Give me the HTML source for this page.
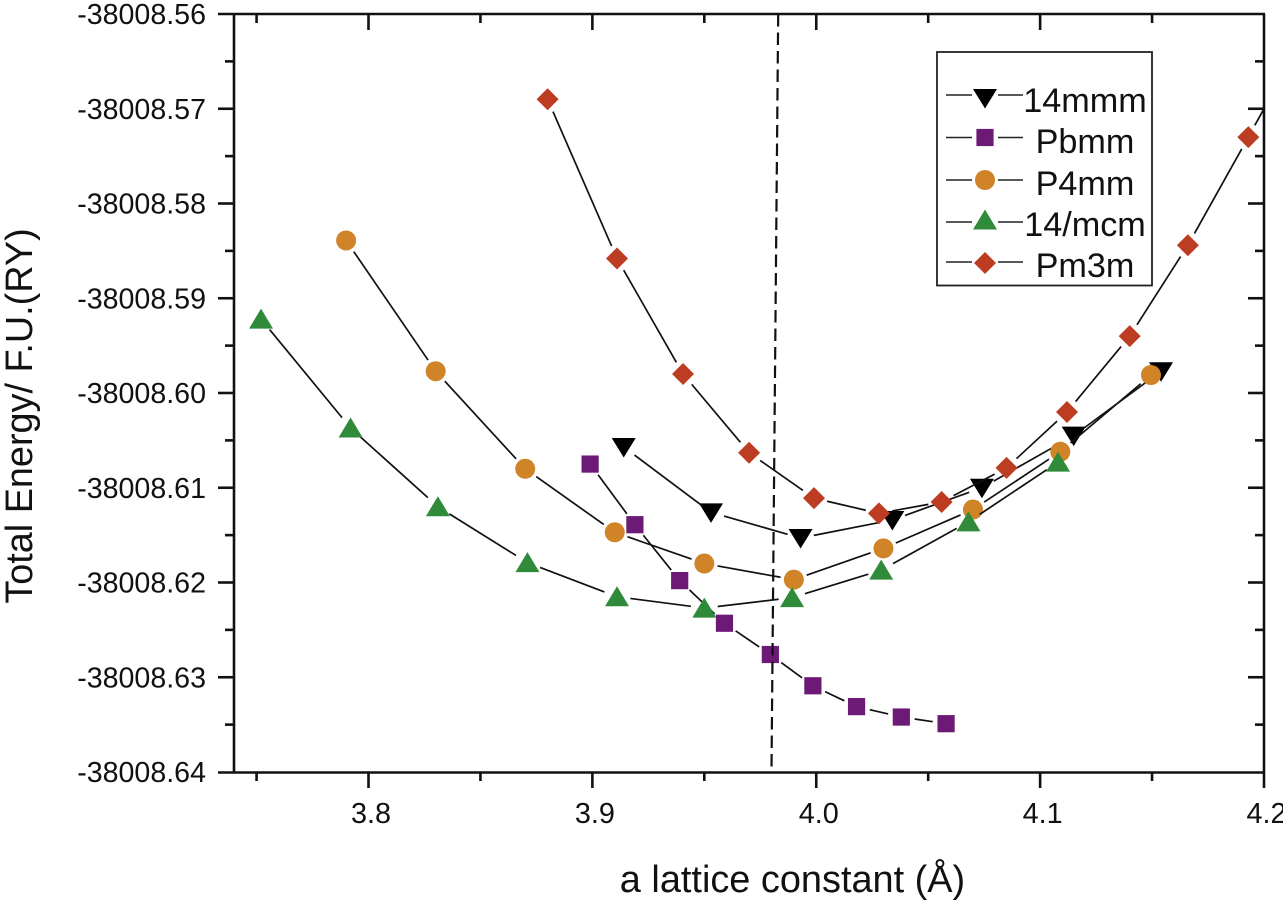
<!DOCTYPE html>
<html lang="en">
<head>
<meta charset="utf-8">
<title>Total Energy vs Lattice Constant</title>
<style>
html,body{margin:0;padding:0;background:#fff;}
svg{display:block;font-family:"Liberation Sans",Arial,sans-serif;}
</style>
</head>
<body>
<svg id="chart" xmlns="http://www.w3.org/2000/svg" width="1283" height="901" viewBox="0 0 1283 901">
  <defs>
    <clipPath id="plot-clip"><rect x="234" y="14" width="1030" height="758"/></clipPath>
  </defs>
  <rect x="0" y="0" width="1283" height="901" fill="#fff"/>
  <g id="axes"></g>
  <g id="series"></g>
  <g id="guide"></g>
  <text x="792.500" y="892" font-size="37.900" text-anchor="middle" fill="#111">a lattice constant (Å)</text>
  <text transform="translate(32,416) rotate(-90)" font-size="37.800" text-anchor="middle" fill="#111">Total Energy/ F.U.(RY)</text>
  <g>
    <rect x="937" y="52" width="215" height="233.500" fill="#fff" stroke="#222" stroke-width="1.800"/>
    <g id="legend-rows"></g>
  </g>
</svg>
<script>
const NS = 'http://www.w3.org/2000/svg';

// ---- Chart data ----
const xMajorTicks = [3.8, 3.9, 4.0, 4.1, 4.2];
const xMajorLabels = ['3.8', '3.9', '4.0', '4.1', '4.2'];
const xMinorTicks = [3.75, 3.85, 3.95, 4.05, 4.15];
const yMajorTicks = [-38008.56, -38008.57, -38008.58, -38008.59, -38008.60, -38008.61, -38008.62, -38008.63, -38008.64];
const yMajorLabels = ['-38008.56', '-38008.57', '-38008.58', '-38008.59', '-38008.60', '-38008.61', '-38008.62', '-38008.63', '-38008.64'];
const yMinorTicks = [-38008.565, -38008.575, -38008.585, -38008.595, -38008.605, -38008.615, -38008.625, -38008.635];

const i4mmmX = [3.914, 3.953, 3.993, 4.034, 4.074, 4.115, 4.154];
const i4mmmY = [-38008.6057, -38008.6126, -38008.6153, -38008.6134, -38008.6100, -38008.6045, -38008.5977];
const pbmmX = [3.899, 3.919, 3.939, 3.959, 3.9795, 3.9985, 4.018, 4.038, 4.058];
const pbmmY = [-38008.6075, -38008.6139, -38008.6198, -38008.6243, -38008.6276, -38008.6309, -38008.6331, -38008.6342, -38008.6349];
const p4mmX = [3.790, 3.830, 3.870, 3.910, 3.950, 3.990, 4.030, 4.070, 4.109, 4.1495];
const p4mmY = [-38008.5839, -38008.5977, -38008.6080, -38008.6147, -38008.6180, -38008.6197, -38008.6164, -38008.6123, -38008.6062, -38008.5981];
const i4mcmX = [3.752, 3.792, 3.831, 3.871, 3.911, 3.950, 3.9892, 4.029, 4.068, 4.108];
const i4mcmY = [-38008.5922, -38008.6037, -38008.6120, -38008.6179, -38008.6215, -38008.6227, -38008.6216, -38008.6187, -38008.6136, -38008.6073];
const pm3mX = [3.880, 3.911, 3.9405, 3.970, 3.999, 4.028, 4.056, 4.085, 4.112, 4.140, 4.166, 4.193, 4.220];
const pm3mY = [-38008.5690, -38008.5858, -38008.5980, -38008.6063, -38008.6111, -38008.6127, -38008.6115, -38008.6079, -38008.6020, -38008.5940, -38008.5844, -38008.5730, -38008.5614];

const guideX = [3.983, 3.980];
const guideY = [-38008.56, -38008.64];

// ---- Axis functions ----
const xDomain = [3.74, 4.2];
const yDomain = [-38008.64, -38008.56];
const plotLeft = 234, plotRight = 1264, plotTop = 14, plotBottom = 772;
function xScale(v) {
  return 368.5 + (v - 3.8) * (plotRight - 368.5) / (xDomain[1] - 3.8);
}
function yScale(v) {
  return plotBottom - (v - yDomain[0]) * (plotBottom - plotTop) / (yDomain[1] - yDomain[0]);
}
function make(tag, attrs, parent) {
  const el = document.createElementNS(NS, tag);
  for (const k in attrs) el.setAttribute(k, attrs[k]);
  parent.appendChild(el);
  return el;
}

// ---- Axes ----
const axes = document.getElementById('axes');
const axisStroke = { stroke: '#111', 'stroke-width': 2.6, fill: 'none' };

const topLine = make('line', Object.assign({ x1: 218, y1: plotTop, x2: plotRight + 1, y2: plotTop }, axisStroke), axes);


const bottomLine = make('line', Object.assign({ x1: 218, y1: plotBottom + 0.5, x2: plotRight + 1, y2: plotBottom + 0.5 }, axisStroke), axes);


const leftLine = make('line', Object.assign({ x1: plotLeft, y1: plotTop, x2: plotLeft, y2: plotBottom + 1 }, axisStroke), axes);


const rightLine = make('line', Object.assign({ x1: plotRight, y1: plotTop, x2: plotRight, y2: plotBottom + 16 }, axisStroke), axes);



xMajorTicks.forEach(function (v, i) {
  const x = xScale(v);
  if (i < xMajorTicks.length - 1) {
    const b = make('line', Object.assign({ x1: x, y1: plotBottom, x2: x, y2: plotBottom + 16 }, axisStroke), axes);
    
    
    const t = make('line', Object.assign({ x1: x, y1: plotTop, x2: x, y2: plotTop + 16 }, axisStroke), axes);
    
    
  }
  const label = make('text', { x: x + 2.5, y: 823, 'font-size': 28.8, 'text-anchor': 'middle', fill: '#111' }, axes);
  
  
  label.textContent = xMajorLabels[i];
});
xMinorTicks.forEach(function (v) {
  const x = xScale(v);
  const b = make('line', Object.assign({ x1: x, y1: plotBottom, x2: x, y2: plotBottom + 9 }, axisStroke), axes);
  
  
  const t = make('line', Object.assign({ x1: x, y1: plotTop, x2: x, y2: plotTop + 9 }, axisStroke), axes);
  
  
});
yMajorTicks.forEach(function (v, i) {
  const y = yScale(v);
  if (i > 0 && i < yMajorTicks.length - 1) {
    const l = make('line', Object.assign({ x1: 218, y1: y, x2: plotLeft, y2: y }, axisStroke), axes);
    
    
    const r = make('line', Object.assign({ x1: plotRight - 16, y1: y, x2: plotRight, y2: y }, axisStroke), axes);
    
    
  }
  const label = make('text', { x: 206, y: y + 10, 'font-size': 28.6, 'text-anchor': 'end', fill: '#111' }, axes);
  
  
  label.textContent = yMajorLabels[i];
});
yMinorTicks.forEach(function (v) {
  const y = yScale(v);
  const l = make('line', Object.assign({ x1: 225, y1: y, x2: plotLeft, y2: y }, axisStroke), axes);
  
  
  const r = make('line', Object.assign({ x1: plotRight - 9, y1: y, x2: plotRight, y2: y }, axisStroke), axes);
  
  
});

// ---- Markers ----
function drawMarker(kind, color, cx, cy, parent) {
  if (kind === 'tri-down') {
    return make('polygon', { points: [cx - 12, cy - 9, cx + 12, cy - 9, cx, cy + 10.500].join(','), fill: color }, parent);
  }
  if (kind === 'tri-up') {
    return make('polygon', { points: [cx - 12, cy + 9.500, cx + 12, cy + 9.500, cx, cy - 10.500].join(','), fill: color }, parent);
  }
  if (kind === 'square') {
    return make('rect', { x: cx - 8.6, y: cy - 8.6, width: 17.200, height: 17.200, fill: color }, parent);
  }
  if (kind === 'circle') {
    return make('circle', { cx: cx, cy: cy, r: 10, fill: color }, parent);
  }
  return make('polygon', { points: [cx, cy - 11, cx + 11, cy, cx, cy + 11, cx - 11, cy].join(','), fill: color }, parent);
}

// ---- Series ----
const seriesRoot = document.getElementById('series');
seriesRoot.setAttribute('clip-path', 'url(#plot-clip)');
const lineGap = 13.5;

function drawSeries(name, kind, color, xs, ys) {
  const group = make('g', {}, seriesRoot);
  
  
  for (let i = 0; i < xs.length - 1; i++) {
    const x1 = xScale(xs[i]), y1 = yScale(ys[i]);
    const x2 = xScale(xs[i + 1]), y2 = yScale(ys[i + 1]);
    const len = Math.hypot(x2 - x1, y2 - y1);
    if (len <= lineGap * 2) continue;
    const ux = (x2 - x1) / len, uy = (y2 - y1) / len;
    const seg = make('line', {
      x1: x1 + ux * lineGap, y1: y1 + uy * lineGap,
      x2: x2 - ux * lineGap, y2: y2 - uy * lineGap,
      stroke: '#111', 'stroke-width': 1.700
    }, group);
    
    
  }
  xs.forEach(function (x, i) {
    const m = drawMarker(kind, color, xScale(x), yScale(ys[i]), group);
    
    
  });
}
const cBlack = '#000000', cPurple = '#6c1a75', cOrange = '#d08427', cGreen = '#2f8b3a', cRed = '#bd3d22';
drawSeries('i4mmm', 'tri-down', cBlack, i4mmmX, i4mmmY);
drawSeries('pbmm', 'square', cPurple, pbmmX, pbmmY);
drawSeries('p4mm', 'circle', cOrange, p4mmX, p4mmY);
drawSeries('i4mcm', 'tri-up', cGreen, i4mcmX, i4mcmY);
drawSeries('pm3m', 'diamond', cRed, pm3mX, pm3mY);

// ---- Dashed reference line (over the markers) ----
const guide = make('line', {
  x1: xScale(guideX[0]), y1: yScale(guideY[0]),
  x2: xScale(guideX[1]), y2: yScale(guideY[1]),
  stroke: '#111', 'stroke-width': 2.2, 'stroke-dasharray': '12.5 6'
}, document.getElementById('guide'));



// ---- Legend ----
const legendNames = ['14mmm', 'Pbmm', 'P4mm', '14/mcm', 'Pm3m'];
const legendKinds = ['tri-down', 'square', 'circle', 'tri-up', 'diamond'];
const legendColors = [cBlack, cPurple, cOrange, cGreen, cRed];
const legendRows = document.getElementById('legend-rows');
const legendMarkY = [98, 137.500, 180, 220, 263];
const legendLineY = [95, 137.500, 180, 222, 262];
const legendTextY = [112, 153, 195, 236, 277];
legendNames.forEach(function (name, i) {
  const row = make('g', {}, legendRows);
  
  
  const a = make('line', { x1: 946, y1: legendLineY[i], x2: 972, y2: legendLineY[i], stroke: '#222', 'stroke-width': 1.400 }, row);
  
  
  const b = make('line', { x1: 998, y1: legendLineY[i], x2: 1023, y2: legendLineY[i], stroke: '#222', 'stroke-width': 1.400 }, row);
  
  
  const m = drawMarker(legendKinds[i], legendColors[i], 985, legendMarkY[i], row);
  
  
  const t = make('text', { x: 1085, y: legendTextY[i], 'font-size': 34.2, 'text-anchor': 'middle', fill: '#111' }, row);
  
  
  t.textContent = name;
});
</script>
</body>
</html>
